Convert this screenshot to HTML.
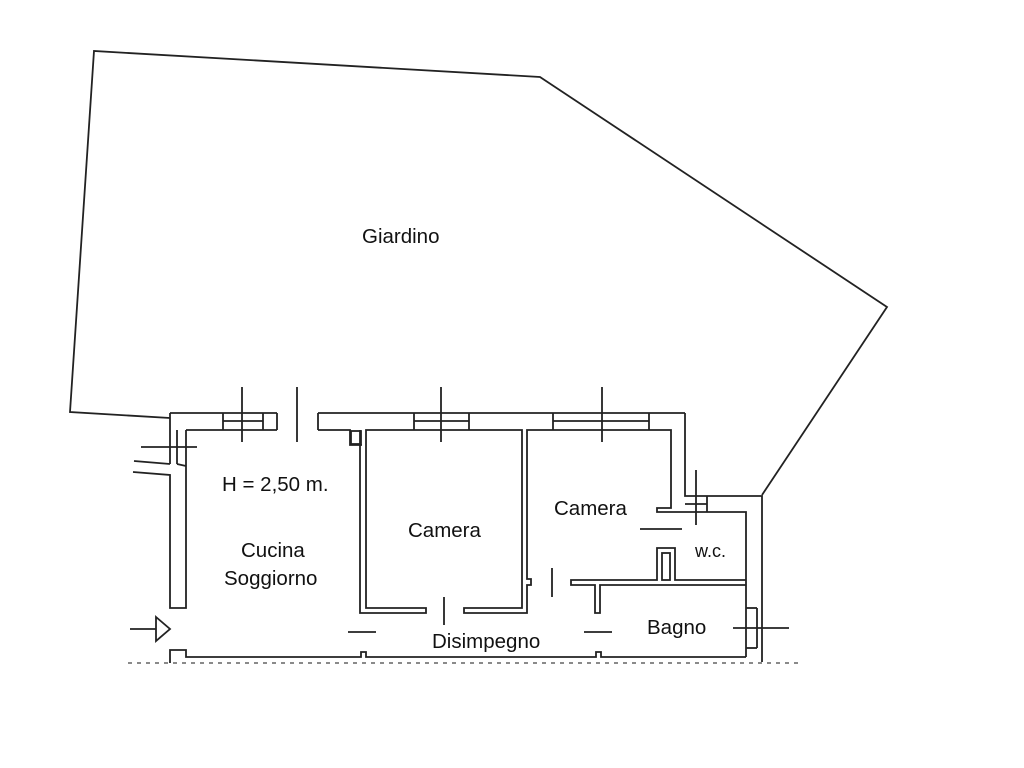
<!DOCTYPE html>
<html><head><style>
html,body{margin:0;padding:0;background:#fff;}
svg{display:block;}
text{font-family:"Liberation Sans",sans-serif;fill:#111;font-size:20.5px;}
</style></head><body>
<svg width="1024" height="768" viewBox="0 0 1024 768" xmlns="http://www.w3.org/2000/svg">
<g fill="none" stroke="#222" stroke-width="1.8">
<polyline points="170,418 70,412 94,51 540,77 887,307 762,495"/>
<line x1="141" y1="447" x2="197" y2="447"/>
<polyline points="134,461 170,464"/>
<polyline points="133,472 170,475 170,608 186,608 186,430"/>
<line x1="170" y1="413" x2="170" y2="464"/>
<line x1="177" y1="430" x2="177" y2="464"/>
<line x1="177" y1="464" x2="186" y2="466"/>
<line x1="170" y1="413" x2="277" y2="413"/>
<line x1="186" y1="430" x2="277" y2="430"/>
<line x1="277" y1="413" x2="277" y2="430"/>
<line x1="223" y1="413" x2="223" y2="430"/>
<line x1="263" y1="413" x2="263" y2="430"/>
<line x1="223" y1="421" x2="263" y2="421"/>
<line x1="242" y1="387" x2="242" y2="442"/>
<line x1="297" y1="387" x2="297" y2="442"/>
<line x1="318" y1="413" x2="685" y2="413"/>
<line x1="318" y1="413" x2="318" y2="430"/>
<polyline points="318,430 350,430 350,445 362,445"/>
<rect x="351" y="431" width="10" height="13"/>
<polyline points="360,430 360,613 426,613 426,608 366,608 366,430 522,430 522,608 464,608 464,613 527,613 527,585 531,585 531,579 527,579 527,430 671,430 671,508 657,508 657,512 746,512 746,657"/>
<line x1="414" y1="413" x2="414" y2="430"/>
<line x1="469" y1="413" x2="469" y2="430"/>
<line x1="414" y1="421" x2="469" y2="421"/>
<line x1="441" y1="387" x2="441" y2="442"/>
<line x1="553" y1="413" x2="553" y2="430"/>
<line x1="649" y1="413" x2="649" y2="430"/>
<line x1="553" y1="421" x2="649" y2="421"/>
<line x1="602" y1="387" x2="602" y2="442"/>
<polyline points="685,413 685,496 762,496 762,662"/>
<line x1="707" y1="496" x2="707" y2="512"/>
<line x1="685" y1="504" x2="707" y2="504"/>
<line x1="696" y1="470" x2="696" y2="525"/>
<line x1="746" y1="608" x2="757" y2="608"/>
<line x1="746" y1="648" x2="757" y2="648"/>
<line x1="757" y1="608" x2="757" y2="648"/>
<line x1="733" y1="628" x2="789" y2="628"/>
<polyline points="746,580 675,580 675,548 657,548 657,580 571,580 571,585 595,585 595,613 600,613 600,585 746,585"/>
<rect x="662" y="553" width="8" height="27"/>
<polyline points="170,663 170,650 186,650 186,657 361,657 361,652 366,652 366,657 596,657 596,652 601,652 601,657 746,657"/>
<line x1="444" y1="597" x2="444" y2="625"/>
<line x1="348" y1="632" x2="376" y2="632"/>
<line x1="584" y1="632" x2="612" y2="632"/>
<line x1="552" y1="568" x2="552" y2="597"/>
<line x1="640" y1="529" x2="682" y2="529"/>
<line x1="130" y1="629" x2="156" y2="629"/>
<polygon points="156,617 170,629 156,641"/>
</g>
<line x1="128" y1="663" x2="800" y2="663" stroke="#444" stroke-width="1.3" stroke-dasharray="4,5"/>
<text x="362" y="243">Giardino</text>
<text x="222" y="491">H = 2,50 m.</text>
<text x="408" y="537">Camera</text>
<text x="241" y="557">Cucina</text>
<text x="224" y="585">Soggiorno</text>
<text x="554" y="515">Camera</text>
<text x="695" y="557" style="font-size:18px">w.c.</text>
<text x="647" y="634">Bagno</text>
<text x="432" y="648">Disimpegno</text>
</svg>
</body></html>
